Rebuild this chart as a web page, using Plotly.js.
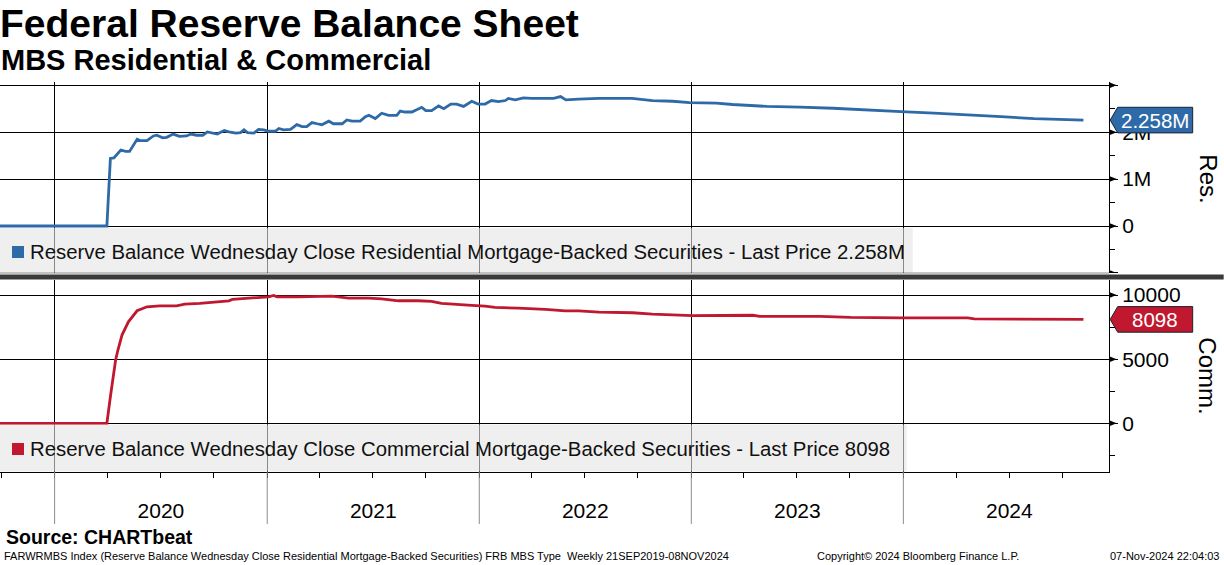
<!DOCTYPE html>
<html><head><meta charset="utf-8">
<script src="https://cdn.plot.ly/plotly-3.0.1.min.js"></script>
<style>html,body{margin:0;padding:0;background:#fff;overflow:hidden}#chart{width:1224px;height:565px}</style>
</head><body><div id="chart"></div>
<script>
// ---------------- DATA ----------------
const resDates = ['2019-09-25','2020-03-31','2020-04-06','2020-04-12','2020-04-24','2020-05-02','2020-05-09','2020-05-22','2020-05-27','2020-06-08','2020-06-19','2020-06-25','2020-07-05','2020-07-12','2020-07-23','2020-07-29','2020-08-03','2020-08-15','2020-08-23','2020-09-01','2020-09-12','2020-09-20','2020-09-29','2020-10-07','2020-10-19','2020-10-27','2020-11-08','2020-11-16','2020-11-22','2020-11-28','2020-12-09','2020-12-17','2020-12-26','2021-01-03','2021-01-15','2021-01-21','2021-01-29','2021-02-10','2021-02-21','2021-03-02','2021-03-10','2021-03-19','2021-03-28','2021-04-05','2021-04-17','2021-04-25','2021-05-10','2021-05-18','2021-05-27','2021-06-10','2021-06-19','2021-06-25','2021-07-06','2021-07-17','2021-07-29','2021-08-12','2021-08-18','2021-08-26','2021-09-07','2021-09-24','2021-10-01','2021-10-11','2021-10-23','2021-11-01','2021-11-13','2021-11-23','2021-12-05','2021-12-19','2021-12-30','2022-01-11','2022-01-22','2022-02-03','2022-02-15','2022-02-20','2022-03-04','2022-03-18','2022-04-01','2022-04-25','2022-05-09','2022-05-21','2022-05-30','2022-06-21','2022-07-26','2022-09-21','2022-10-26','2022-11-30','2022-12-29','2023-02-13','2023-03-13','2023-05-11','2023-06-08','2023-07-07','2023-09-02','2023-10-31','2023-12-28','2024-02-23','2024-04-21','2024-06-17','2024-08-13','2024-10-11','2024-11-06'];
const resValues = [0,0,1.44,1.45,1.62,1.59,1.59,1.85,1.82,1.82,1.92,1.935,1.88,1.89,1.96,1.935,1.91,1.92,1.96,1.935,1.935,2.006,1.98,1.96,2.035,2.006,1.98,1.99,2.05,1.99,1.98,2.06,2.05,2.02,2.02,2.08,2.05,2.06,2.16,2.12,2.12,2.205,2.18,2.16,2.235,2.18,2.18,2.26,2.235,2.235,2.33,2.36,2.29,2.405,2.36,2.36,2.45,2.43,2.43,2.53,2.46,2.46,2.56,2.50,2.60,2.60,2.55,2.66,2.60,2.60,2.675,2.65,2.675,2.72,2.69,2.73,2.72,2.73,2.72,2.76,2.69,2.705,2.72,2.72,2.675,2.66,2.63,2.62,2.59,2.55,2.535,2.535,2.51,2.48,2.44,2.405,2.375,2.33,2.29,2.265,2.258];

const commDates = ['2019-09-25','2020-03-31','2020-04-06','2020-04-15','2020-04-19','2020-04-26','2020-05-07','2020-05-22','2020-06-08','2020-06-30','2020-07-29','2020-08-12','2020-09-07','2020-09-29','2020-10-10','2020-10-27','2020-11-02','2020-11-25','2020-12-23','2021-01-03','2021-01-12','2021-01-18','2021-02-24','2021-03-25','2021-04-22','2021-05-21','2021-06-25','2021-07-17','2021-08-15','2021-09-18','2021-10-11','2021-10-28','2021-11-26','2021-12-19','2022-01-11','2022-01-28','2022-03-09','2022-04-13','2022-04-25','2022-05-29','2022-06-21','2022-07-26','2022-09-22','2022-10-26','2022-12-23','2023-01-03','2023-04-17','2023-04-29','2023-08-11','2023-09-26','2023-10-02','2023-12-28','2024-04-21','2024-05-02','2024-09-29','2024-10-20','2024-11-06'];
const commValues = [0,0,2070,4930,5710,6880,7910,8770,9080,9160,9160,9290,9350,9450,9500,9550,9660,9740,9810,9860,9970,9860,9860,9910,9910,9760,9760,9700,9550,9550,9500,9350,9290,9190,9135,9035,8980,8925,8880,8770,8770,8670,8615,8515,8460,8400,8420,8330,8330,8310,8250,8210,8210,8140,8140,8098,8098];

const yearTicks = ['2020-01-01','2021-01-01','2022-01-01','2023-01-01','2024-01-01'];
const resTickVals = [-1,0,1,2,3];
const resTickText = ['','0','1M','2M',''];
const commTickVals = [0,5000,10000];
const commTickText = ['0','5000','10000'];
const resLastLabel = '2.258M';
const commLastLabel = '8098';
const resLegendText = 'Reserve Balance Wednesday Close Residential Mortgage-Backed Securities - Last Price 2.258M';
const commLegendText = 'Reserve Balance Wednesday Close Commercial Mortgage-Backed Securities - Last Price 8098';

// ---------------- GEOMETRY ----------------
const W = 1224, H = 565;
const PW = 1109.3, PT = 82, PB = 472, PH = PB - PT;
const px2x = px => px / PW;
const px2y = py => (PB - py) / PH;
const topDom = [px2y(273), 1];
const botDom = [0, px2y(279.5)];
const topRange = [-1.002, 3.07];
const botRange = [-3796, 11208];
const topUPP = (topRange[1] - topRange[0]) / ((topDom[1] - topDom[0]) * PH);
const botUPP = (botRange[1] - botRange[0]) / ((botDom[1] - botDom[0]) * PH);

const BLUE = '#2e6aa8', RED = '#c0182f';
const FONT = 'Liberation Sans, Arial, sans-serif';

const shapes = [];
const annotations = [];

// legend boxes
shapes.push({type:'rect', xref:'paper', yref:'paper', x0:px2x(0), x1:px2x(913), y0:px2y(272.5), y1:px2y(228), fillcolor:'rgba(228,228,228,0.6)', line:{width:0}});
shapes.push({type:'rect', xref:'paper', yref:'paper', x0:px2x(0), x1:px2x(907), y0:px2y(471.5), y1:px2y(424.5), fillcolor:'rgba(228,228,228,0.6)', line:{width:0}});
shapes.push({type:'rect', xref:'paper', yref:'paper', x0:px2x(12), x1:px2x(24), y0:px2y(258), y1:px2y(246), fillcolor:BLUE, line:{width:0}});
shapes.push({type:'rect', xref:'paper', yref:'paper', x0:px2x(12), x1:px2x(24), y0:px2y(455), y1:px2y(443), fillcolor:RED, line:{width:0}});

// separator between panels
shapes.push({type:'line', xref:'paper', yref:'paper', x0:0, x1:1, y0:px2y(273), y1:px2y(273), line:{color:'#8a8a8a', width:1}});
shapes.push({type:'rect', xref:'paper', yref:'paper', x0:0, x1:px2x(W), y0:px2y(279.5), y1:px2y(274.5), fillcolor:'#3a3a3a', line:{width:0}});

// year separators below the axis
yearTicks.forEach(d => shapes.push({type:'line', xref:'x', yref:'paper', x0:d, x1:d, y0:0, y1:px2y(524), line:{color:'#8c8c8c', width:1}}));

// arrow ticks on right axes
function arrow(yref, v, upp){
  return {type:'path', xref:'paper', yref:yref,
    path:`M ${px2x(1109.5)},${v - 3*upp} L ${px2x(1117)},${v} L ${px2x(1109.5)},${v + 3*upp} Z`,
    fillcolor:'#000', line:{width:0}};
}
resTickVals.forEach(v => shapes.push(arrow('y', v, topUPP)));
commTickVals.forEach(v => shapes.push(arrow('y2', v, botUPP)));

// last price tags
function tag(yref, v, upp, color){
  const h = 12.8 * upp;
  return {type:'path', xref:'paper', yref:yref,
    path:`M ${px2x(1110.5)},${v} L ${px2x(1118)},${v + h} L ${px2x(1193)},${v + h} L ${px2x(1193)},${v - h} L ${px2x(1118)},${v - h} Z`,
    fillcolor:color, line:{color:'#1b2233', width:1}};
}
const resLast = resValues[resValues.length - 1];
const commLast = commValues[commValues.length - 1];
shapes.push(tag('y', resLast, topUPP, BLUE));
shapes.push(tag('y2', commLast, botUPP, RED));

annotations.push({xref:'paper', yref:'y', x:px2x(1155), y:resLast, text:resLastLabel, showarrow:false, xanchor:'center', yanchor:'middle', font:{family:FONT, size:20.5, color:'#fff'}});
annotations.push({xref:'paper', yref:'y2', x:px2x(1155), y:commLast, text:commLastLabel, showarrow:false, xanchor:'center', yanchor:'middle', font:{family:FONT, size:20.5, color:'#fff'}});

// legend texts
annotations.push({xref:'paper', yref:'paper', x:px2x(28), y:px2y(252), text:resLegendText, showarrow:false, xanchor:'left', yanchor:'middle', font:{family:FONT, size:20.35, color:'#111'}});
annotations.push({xref:'paper', yref:'paper', x:px2x(28), y:px2y(449), text:commLegendText, showarrow:false, xanchor:'left', yanchor:'middle', font:{family:FONT, size:20.35, color:'#111'}});

// axis titles
annotations.push({xref:'paper', yref:'paper', x:px2x(1209), y:px2y(179), text:'Res.', textangle:90, showarrow:false, xanchor:'center', yanchor:'middle', font:{family:FONT, size:24, color:'#000'}});
annotations.push({xref:'paper', yref:'paper', x:px2x(1208), y:px2y(376), text:'Comm.', textangle:90, showarrow:false, xanchor:'center', yanchor:'middle', font:{family:FONT, size:24, color:'#000'}});

// subtitle, source, footer
annotations.push({xref:'paper', yref:'paper', x:0, y:px2y(60), text:'<b>MBS Residential &amp; Commercial</b>', showarrow:false, xanchor:'left', yanchor:'middle', xshift:-1, font:{family:FONT, size:29, color:'#000'}});
annotations.push({xref:'paper', yref:'paper', x:px2x(4), y:px2y(537), text:'<b>Source: CHARTbeat</b>', showarrow:false, xanchor:'left', yanchor:'middle', font:{family:FONT, size:19.5, color:'#000'}});
annotations.push({xref:'paper', yref:'paper', x:px2x(2), y:px2y(556), text:'FARWRMBS Index (Reserve Balance Wednesday Close Residential Mortgage-Backed Securities) FRB MBS Type&nbsp;&nbsp;Weekly 21SEP2019-08NOV2024', showarrow:false, xanchor:'left', yanchor:'middle', font:{family:FONT, size:11, color:'#000'}});
annotations.push({xref:'paper', yref:'paper', x:px2x(815), y:px2y(556), text:'Copyright© 2024 Bloomberg Finance L.P.', showarrow:false, xanchor:'left', yanchor:'middle', font:{family:FONT, size:11, color:'#000'}});
annotations.push({xref:'paper', yref:'paper', x:px2x(1221), y:px2y(556), text:'07-Nov-2024 22:04:03', showarrow:false, xanchor:'right', yanchor:'middle', font:{family:FONT, size:11, color:'#000'}});

const traces = [
  {x:resDates, y:resValues, type:'scatter', mode:'lines', xaxis:'x', yaxis:'y', line:{color:BLUE, width:2.8}, name:'Res.', hoverinfo:'skip'},
  {x:commDates, y:commValues, type:'scatter', mode:'lines', xaxis:'x', yaxis:'y2', line:{color:RED, width:2.8}, name:'Comm.', hoverinfo:'skip'}
];

const layout = {
  width:W, height:H,
  margin:{l:0, r:W - PW, t:PT, b:H - PB, pad:0},
  paper_bgcolor:'#fff', plot_bgcolor:'#fff',
  showlegend:false,
  font:{family:FONT, color:'#000'},
  title:{text:'<b>Federal Reserve Balance Sheet</b>', x:0, xref:'paper', xanchor:'left', y:1 - 23/H, yref:'container', yanchor:'middle', font:{family:FONT, size:39, color:'#000'}},
  xaxis:{type:'date', anchor:'y2', domain:[0,1], range:['2019-09-29','2024-12-20'],
    tickmode:'linear', tick0:'2020-01-01', dtick:'M12', ticklabelmode:'period', tickformat:'%Y',
    showgrid:true, gridcolor:'#000', gridwidth:1, zeroline:false,
    ticks:'outside', ticklen:5, tickcolor:'#000', tickwidth:1,
    showline:true, linecolor:'#000', linewidth:1,
    ticklabelstandoff:15,
    tickfont:{family:FONT, size:21, color:'#000'},
    minor:{tickmode:'linear', tick0:'2020-01-01', dtick:'M3', ticks:'outside', ticklen:5, tickcolor:'#000', showgrid:false}},
  yaxis:{domain:topDom, range:topRange, side:'right', anchor:'x',
    tickmode:'array', tickvals:resTickVals, ticktext:resTickText,
    showgrid:true, gridcolor:'#000', gridwidth:1, zeroline:false,
    ticks:'outside', ticklen:8, tickcolor:'#000',
    showline:true, linecolor:'#000', linewidth:1,
    tickfont:{family:FONT, size:21, color:'#000'},
    minor:{tickmode:'linear', tick0:-0.5, dtick:1, ticks:'outside', ticklen:5, tickcolor:'#000', showgrid:false}},
  yaxis2:{domain:botDom, range:botRange, side:'right', anchor:'x',
    tickmode:'array', tickvals:commTickVals, ticktext:commTickText,
    showgrid:true, gridcolor:'#000', gridwidth:1, zeroline:false,
    ticks:'outside', ticklen:8, tickcolor:'#000',
    showline:true, linecolor:'#000', linewidth:1,
    tickfont:{family:FONT, size:21, color:'#000'},
    minor:{tickmode:'linear', tick0:-2500, dtick:5000, ticks:'outside', ticklen:5, tickcolor:'#000', showgrid:false}},
  shapes:shapes,
  annotations:annotations
};

Plotly.newPlot('chart', traces, layout, {staticPlot:true, displayModeBar:false});
</script>
</body></html>
